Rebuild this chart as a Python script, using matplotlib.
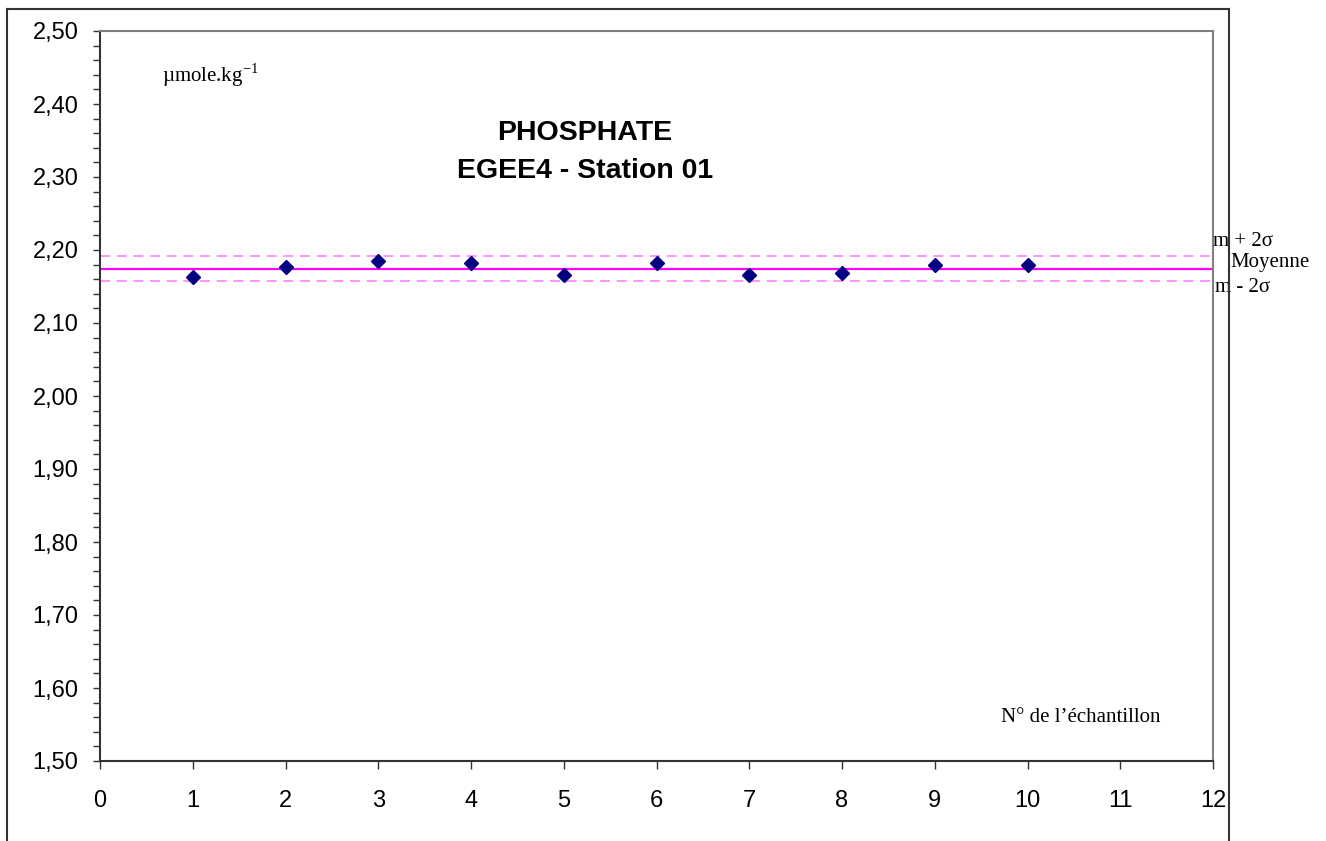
import matplotlib
matplotlib.use("Agg")
import matplotlib.pyplot as plt
from matplotlib.ticker import MultipleLocator, FuncFormatter
from matplotlib.lines import Line2D

# data
samples = [1, 2, 3, 4, 5, 6, 7, 8, 9, 10]
phosphate = [2.163, 2.177, 2.185, 2.182, 2.166, 2.182, 2.166, 2.169, 2.179, 2.179]
mean_value = 2.1745
upper_2sigma = 2.1915
lower_2sigma = 2.1575

W, H = 1326, 841
fig = plt.figure(figsize=(W / 100, H / 100), dpi=100)
fig.patch.set_facecolor("white")

# outer frame (no bottom edge visible)
fx0, fx1, fy = 7 / W, 1229 / W, 1 - 9 / H
frame_kw = dict(color="#333333", lw=1.5, transform=fig.transFigure)
fig.add_artist(Line2D([fx0, fx0], [0, fy], **frame_kw))
fig.add_artist(Line2D([fx0, fx1], [fy, fy], **frame_kw))
fig.add_artist(Line2D([fx1, fx1], [0, fy], **frame_kw))

ax = fig.add_axes([100 / W, (H - 761) / H, 1113 / W, 730 / H])
ax.set_xlim(0, 12)
ax.set_ylim(1.50, 2.50)

ax.axhline(mean_value, color="#FF00FF", lw=1.6, zorder=2)
ax.axhline(upper_2sigma, color="#FF80FF", lw=1.2, ls=(0, (6, 4)), zorder=2)
ax.axhline(lower_2sigma, color="#FF80FF", lw=1.2, ls=(0, (6, 4)), zorder=2)

ax.plot(samples, phosphate, ls="none", marker="D", ms=7.5, color="#000080", zorder=3)

ax.xaxis.set_major_locator(MultipleLocator(1))
ax.yaxis.set_major_locator(MultipleLocator(0.1))
ax.yaxis.set_minor_locator(MultipleLocator(0.02))
ax.yaxis.set_major_formatter(FuncFormatter(lambda v, p: f"{v:.2f}".replace(".", ",")))

for side in ("left", "bottom"):
    ax.spines[side].set_color("#333333")
    ax.spines[side].set_linewidth(1.5)
for side in ("top", "right"):
    ax.spines[side].set_color("#808080")
    ax.spines[side].set_linewidth(1.5)

ax.tick_params(axis="y", which="both", direction="out", length=5, width=1, color="#333333",
               labelsize=17, pad=10.5, labelfontfamily="Liberation Sans")
ax.tick_params(axis="x", which="major", direction="out", length=6, width=1, color="#333333",
               labelsize=17, pad=15, labelfontfamily="Liberation Sans")

serif = "Liberation Serif"
ax.text(0.67, 2.439, r"µmole.kg$^{\mathregular{-1}}$", fontsize=15, family=serif, va="center")
ax.text(5.23, 2.36, "PHOSPHATE", fontsize=20.5, weight="bold", family="Liberation Sans",
        ha="center", va="center")
ax.text(5.23, 2.308, "EGEE4 - Station 01", fontsize=20.5, weight="bold", family="Liberation Sans",
        ha="center", va="center")
ax.text(9.71, 1.559, "N° de l\u2019échantillon", fontsize=15, family=serif, va="center")

ax.text(1213 / W, 1 - 241 / H, "m + 2σ", fontsize=15, family=serif, va="center",
        transform=fig.transFigure)
ax.text(1230 / W, 1 - 263 / H, "Moyenne", fontsize=15, family=serif, va="center",
        transform=fig.transFigure)
ax.text(1215 / W, 1 - 288 / H, "m - 2σ", fontsize=15, family=serif, va="center",
        transform=fig.transFigure)

fig.savefig("out.png", dpi=100)
